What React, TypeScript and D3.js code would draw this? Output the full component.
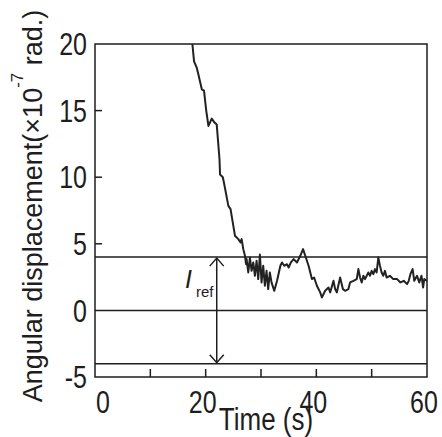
import React from "react";
import * as d3 from "d3";

const times = [17.6,17.9,18.4,18.7,19.3,19.7,20.1,20.5,21.1,21.6,22.0,22.5,22.6,23.1,23.3,24.1,24.5,24.7,25.3,25.9,26.3,26.5,26.8,27.1,27.3,27.4,27.7,28.0,28.3,28.6,28.9,29.2,29.5,29.8,30.1,30.4,30.7,31.0,31.3,31.6,31.9,32.4,32.9,33.5,33.8,34.2,34.7,35.0,35.4,35.9,36.5,37.1,37.6,38.0,38.6,39.2,39.6,40.1,40.7,41.0,41.6,42.2,42.5,43.1,43.4,43.7,44.3,44.8,45.2,45.8,46.1,46.7,47.3,47.6,47.9,48.2,48.5,48.8,49.4,49.7,50.0,50.3,50.6,50.9,51.2,51.5,51.8,52.1,52.4,52.7,53.3,53.9,54.6,55.2,55.8,56.4,56.7,57.0,57.4,57.7,58.2,58.6,59.0,59.3,59.5,60.0];
const displacement = [20.0,18.7,18.2,17.7,16.6,16.5,15.0,13.85,14.4,14.1,13.95,11.35,10.2,10.0,9.6,7.85,7.6,7.1,5.6,5.35,5.1,5.35,4.6,4.1,3.47,3.85,2.85,3.97,2.97,3.6,2.6,3.72,2.35,4.2,2.1,3.35,1.85,2.97,1.6,2.85,2.1,1.47,2.22,3.35,3.6,3.35,3.47,3.22,3.6,3.85,3.6,4.1,4.6,4.1,3.35,2.35,2.47,1.85,1.35,0.97,1.47,1.72,1.35,2.22,1.6,1.35,2.47,1.6,1.47,1.6,2.1,2.22,2.35,3.1,2.47,2.1,2.6,2.35,2.85,2.6,2.97,2.72,3.1,2.85,3.97,3.35,2.85,2.6,2.97,2.47,2.6,2.35,2.35,2.1,2.22,1.97,2.22,2.72,3.1,2.22,2.6,2.1,2.6,1.72,2.35,2.22];

const xTickLabels = [0, 20, 40, 60];
const xMinorTicks = [10, 20, 30, 40, 50];
const yTickLabels = [20, 15, 10, 5, 0, -5];
const yInnerTicks = [15, 10, 5];
const refLines = [4, 0, -4];
const refArrowTime = 22;
const refLimit = 4;

export default function App() {
  const W = 442, H = 437;
  const x = d3.scaleLinear().domain([0, 60]).range([95, 427]);
  const y = d3.scaleLinear().domain([-5, 20]).range([377, 44]);
  const pts = times.map((t, i) => [t, displacement[i]] as [number, number]);
  const line = d3.line<[number, number]>().x(d => x(d[0])).y(d => y(d[1]));
  const ink = "#1e1e1e";
  const font = "'Liberation Sans', Arial, Helvetica, sans-serif";
  const ax = x(refArrowTime);
  const yTop = y(refLimit), yBot = y(-refLimit);
  return (
    <svg width={W} height={H} style={{ position: "absolute", left: 0, top: 0, background: "#fff" }} fontFamily={font}>
      <rect x={0} y={0} width={W} height={H} fill="#fff" />
      {/* reference lines */}
      {refLines.map(v => (
        <line key={v} x1={x(0)} x2={x(60)} y1={y(v)} y2={y(v)} stroke={ink} strokeWidth={1.5} />
      ))}
      {/* inner ticks */}
      {yInnerTicks.map(v => (
        <line key={v} x1={x(0)} x2={x(0) + 7} y1={y(v)} y2={y(v)} stroke={ink} strokeWidth={1.5} />
      ))}
      {xMinorTicks.map(v => (
        <line key={v} x1={x(v)} x2={x(v)} y1={y(-5)} y2={y(-5) - 8} stroke={ink} strokeWidth={1.5} />
      ))}
      {/* data curve */}
      <path d={line(pts) || ""} fill="none" stroke="#222" strokeWidth={2} strokeLinejoin="round" />
      {/* frame */}
      <rect x={x(0)} y={y(20)} width={x(60) - x(0)} height={y(-5) - y(20)} fill="none" stroke={ink} strokeWidth={1.5} />
      {/* arrow */}
      <line x1={ax} x2={ax} y1={yTop + 1} y2={yBot - 1} stroke={ink} strokeWidth={1.5} />
      <path d={`M${ax - 7},${yTop + 9} L${ax},${yTop + 1} L${ax + 7},${yTop + 9}`} fill="none" stroke={ink} strokeWidth={1.5} />
      <path d={`M${ax - 7},${yBot - 9} L${ax},${yBot - 1} L${ax + 7},${yBot - 9}`} fill="none" stroke={ink} strokeWidth={1.5} />
      <text x={185} y={288} fontSize={25} fontStyle="italic" fill={ink}>I</text>
      <text x={196} y={297} fontSize={15} fill={ink}>ref</text>
      {/* y tick labels */}
      {yTickLabels.map(v => (
        <g key={v} transform={`translate(87,${y(v)}) scale(1,1.25)`}>
          <text x={0} y={0} dy="0.36em" textAnchor="end" fontSize={25} fill={ink}>{v}</text>
        </g>
      ))}
      {/* x tick labels */}
      {xTickLabels.map(v => (
        <g key={v} transform={`translate(${v === 0 ? x(v) + 8 : x(v) - 3},413) scale(1,1.25)`}>
          <text x={0} y={0} textAnchor="middle" fontSize={25} fill={ink}>{v}</text>
        </g>
      ))}
      <g transform={`translate(266,430) scale(1,1.2)`}>
        <text x={0} y={0} textAnchor="middle" fontSize={26} fill={ink}>Time (s)</text>
      </g>
      <text transform="translate(42,206) rotate(-90)" textAnchor="middle" fontSize={27} fill={ink}>
        Angular displacement(×10<tspan fontSize={17} dy={-19}>-7</tspan><tspan dy={19}> rad.)</tspan>
      </text>
    </svg>
  );
}
